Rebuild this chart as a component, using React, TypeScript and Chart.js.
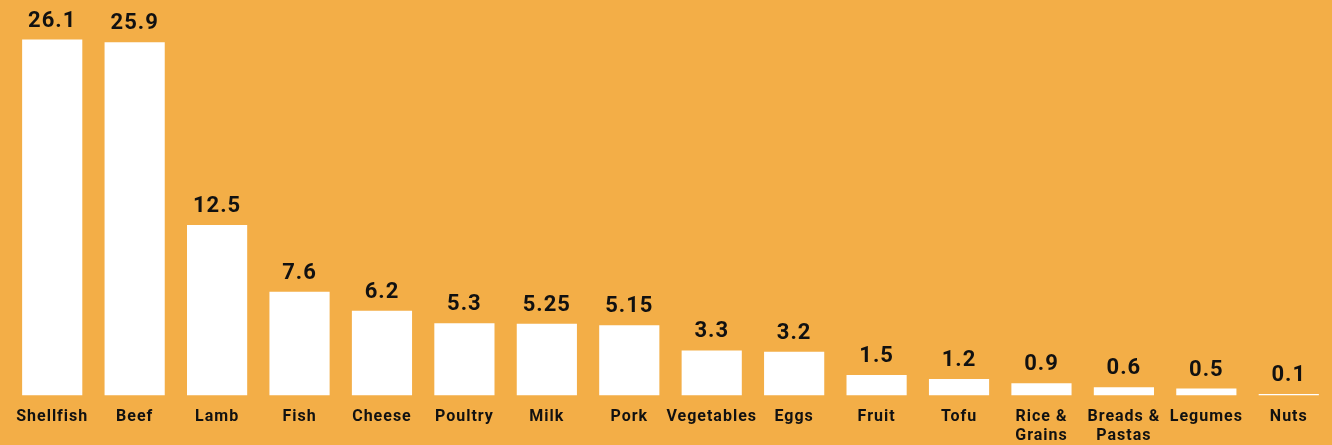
import React, { useEffect, useRef } from "react";
import { Chart, registerables } from "chart.js";

Chart.register(...registerables);

const categories: (string | string[])[] = [
  "Shellfish", "Beef", "Lamb", "Fish", "Cheese", "Poultry", "Milk", "Pork",
  "Vegetables", "Eggs", "Fruit", "Tofu", ["Rice &", "Grains"], ["Breads &", "Pastas"], "Legumes", "Nuts",
];
const values: number[] = [26.1, 25.9, 12.5, 7.6, 6.2, 5.3, 5.25, 5.15, 3.3, 3.2, 1.5, 1.2, 0.9, 0.6, 0.5, 0.1];
const valueLabels: string[] = ["26.1", "25.9", "12.5", "7.6", "6.2", "5.3", "5.25", "5.15", "3.3", "3.2", "1.5", "1.2", "0.9", "0.6", "0.5", "0.1"];

const BG = "#F3AE47";
const TEXT = "#111111";

const letterSpacingPlugin = {
  id: "letterSpacing",
  beforeDraw(chart: any) {
    chart.ctx.letterSpacing = "1px";
  },
};

const valueLabelPlugin = {
  id: "valueLabels",
  afterDatasetsDraw(chart: any) {
    const ctx = chart.ctx;
    const meta = chart.getDatasetMeta(0);
    ctx.save();
    ctx.letterSpacing = "1px";
    ctx.font = "bold 22px Roboto";
    ctx.fillStyle = TEXT;
    ctx.textAlign = "center";
    ctx.textBaseline = "alphabetic";
    meta.data.forEach((bar: any, i: number) => {
      ctx.fillText(valueLabels[i], bar.x, bar.y - 13);
    });
    ctx.restore();
  },
};

export default function App() {
  const canvasRef = useRef<HTMLCanvasElement | null>(null);

  useEffect(() => {
    if (!canvasRef.current) return;
    const chart = new Chart(canvasRef.current, {
      type: "bar",
      data: {
        labels: categories,
        datasets: [
          {
            data: values,
            backgroundColor: "#FFFFFF",
            borderWidth: 0,
            barPercentage: 0.73,
            categoryPercentage: 1,
          },
        ],
      },
      options: {
        animation: false,
        responsive: false,
        maintainAspectRatio: false,
        layout: { padding: { left: 11, right: 2, top: 0, bottom: -12 } },
        plugins: {
          legend: { display: false },
          tooltip: { enabled: false },
        },
        scales: {
          x: {
            grid: { display: false, drawTicks: false },
            border: { display: false },
            ticks: {
              autoSkip: false,
              maxRotation: 0,
              minRotation: 0,
              padding: 11.6,
              color: TEXT,
              font: { family: "Roboto", weight: "bold", size: 16, lineHeight: 1.2 },
            },
          },
          y: {
            display: false,
            min: 0,
            max: 29,
          },
        },
      },
      plugins: [letterSpacingPlugin, valueLabelPlugin],
    });
    return () => chart.destroy();
  }, []);

  return (
    <div style={{ position: "fixed", left: 0, top: 0, width: 1332, height: 445, background: BG }}>
      <canvas ref={canvasRef} width={1332} height={445} style={{ display: "block", width: 1332, height: 445 }} />
    </div>
  );
}
